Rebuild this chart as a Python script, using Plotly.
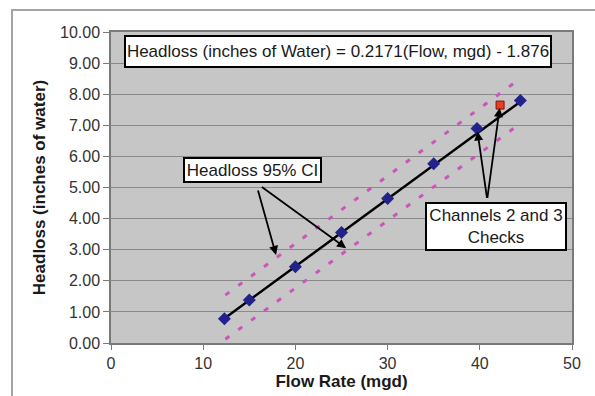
import plotly.graph_objects as go

# ---- data ----
flow = [12.3, 15.0, 20.0, 25.0, 30.0, 35.0, 39.7, 44.4]
headloss = [0.78, 1.38, 2.45, 3.55, 4.65, 5.76, 6.90, 7.80]
check_flow = [42.2]
check_headloss = [7.65]
trend_x = [12.3, 44.4]
trend_y = [0.79, 7.76]
ci_x = [12.4, 44.5]
ci_upper = [1.54, 8.53]
ci_lower = [0.12, 7.08]
x_ticks = [0, 10, 20, 30, 40, 50]
y_ticks = [0, 1, 2, 3, 4, 5, 6, 7, 8, 9, 10]

FONT = "Liberation Sans, Arial, sans-serif"
W, H = 595, 396
L, R, T, B = 111, 23, 32, 53
PW, PH = W - L - R, H - T - B


def px(x):
    return (x - L) / PW


def py(y):
    return (H - B - y) / PH


fig = go.Figure()

ci_style = dict(color="#cc55bb", width=3, dash="5px,11px")
fig.add_trace(go.Scatter(x=ci_x, y=ci_upper, mode="lines", line=ci_style,
                         hoverinfo="skip"))
fig.add_trace(go.Scatter(x=ci_x, y=ci_lower, mode="lines", line=ci_style,
                         hoverinfo="skip"))
fig.add_trace(go.Scatter(x=trend_x, y=trend_y, mode="lines",
                         line=dict(color="black", width=2.5)))
fig.add_trace(go.Scatter(x=flow, y=headloss, mode="markers",
                         marker=dict(symbol="diamond", size=10, color="#22228c",
                                     line=dict(width=0))))
fig.add_trace(go.Scatter(x=check_flow, y=check_headloss, mode="markers",
                         marker=dict(symbol="square", size=8, color="#e8401c",
                                     line=dict(width=1, color="#801010"))))

box = dict(bgcolor="white", bordercolor="black", borderwidth=2, borderpad=0,
           font=dict(family=FONT, size=17, color="#1a1a1a"), showarrow=False,
           xref="paper", yref="paper", xanchor="center", yanchor="middle",
           align="center")

fig.add_annotation(text="Headloss (inches of Water) = 0.2171(Flow, mgd) - 1.876",
                   x=px(338), y=py(51.5), width=424, height=29, **box)
fig.add_annotation(text="Headloss 95% CI", x=px(252.5), y=py(170),
                   width=135, height=22, **box)
fig.add_annotation(text="Channels 2 and 3<br>Checks", x=px(496), y=py(226.5),
                   width=138, height=45, **box)

arrow = dict(text="", showarrow=True, arrowhead=2, arrowsize=1, arrowwidth=1.8,
             arrowcolor="black", xref="x", yref="y", axref="x", ayref="y")
# CI arrows
fig.add_annotation(x=17.9, y=2.83, ax=15.9, ay=4.95, **arrow)
fig.add_annotation(x=25.5, y=3.05, ax=16.2, ay=5.05, **arrow)
# Check arrows
fig.add_annotation(x=flow[6], y=headloss[6], ax=40.8, ay=4.62, standoff=3, **arrow)
fig.add_annotation(x=check_flow[0], y=check_headloss[0], ax=40.8, ay=4.62,
                   standoff=3, **arrow)

# outer chart frame
fig.add_shape(type="rect", xref="paper", yref="paper",
              x0=px(12), x1=px(605), y0=py(410), y1=py(10),
              line=dict(color="#a8a2a2", width=2), fillcolor="rgba(0,0,0,0)",
              layer="below")

axis_common = dict(showline=True, linecolor="#7a7a7a", linewidth=1.5,
                   mirror=True, ticks="outside", tickcolor="#7a7a7a",
                   tickfont=dict(family=FONT, size=16, color="#333333"),
                   zeroline=False, automargin=False)

fig.update_xaxes(range=[0, 50], tickvals=x_ticks, showgrid=False, ticklen=5,
                 title=dict(text="<b>Flow Rate (mgd)</b>", standoff=1,
                            font=dict(family=FONT, size=17, color="#1a1a1a")),
                 **axis_common)
fig.update_yaxes(range=[0, 10], tickvals=y_ticks, tickformat=".2f",
                 showgrid=True, gridcolor="#8a8a8a", gridwidth=1.2, ticklen=6,
                 title=dict(text="<b>Headloss (inches of water)</b>", standoff=10,
                            font=dict(family=FONT, size=17, color="#1a1a1a")),
                 **axis_common)

fig.update_layout(width=W, height=H, margin=dict(l=L, r=R, t=T, b=B),
                  paper_bgcolor="white", plot_bgcolor="#c6c6c6",
                  showlegend=False, font=dict(family=FONT))

fig.write_html("out.html")
